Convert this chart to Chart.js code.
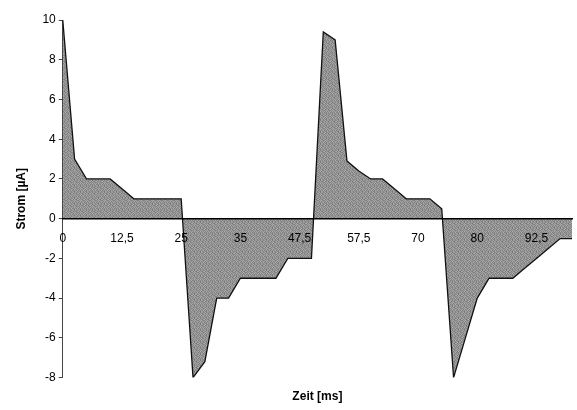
<!DOCTYPE html>
<html>
<head>
<meta charset="utf-8">
<script src="https://cdn.jsdelivr.net/npm/chart.js@4"></script>
<style>
  html, body { margin: 0; padding: 0; background: #fff; }
  #wrap { width: 577px; height: 410px; }
</style>
</head>
<body>
<div id="wrap"><canvas id="myChart"></canvas></div>
<script>
// time points (ms), the jumps repeat a time value
const zeit = [0, 2.5, 5, 7.5, 10, 12.5, 15, 17.5, 20, 22.5, 25,
    25, 27.5, 30, 32.5, 35, 37.5, 40, 42.5, 45, 47.5, 50,
    50, 52.5, 55, 57.5, 60, 62.5, 65, 67.5, 70, 72.5, 75,
    75, 77.5, 80, 82.5, 85, 87.5, 90, 92.5, 95, 97.5, 100];

// current in µA
const strom = [10, 3, 2, 2, 2, 1.5, 1, 1, 1, 1, 1,
    -8, -7.2, -4, -4, -3, -3, -3, -3, -2, -2, -2,
    9.4, 9, 2.9, 2.4, 2, 2, 1.5, 1, 1, 1, 0.5,
    -8, -6, -4, -3, -3, -3, -2.5, -2, -1.5, -1, -1];

const yTicks = [10, 8, 6, 4, 2, 0, -2, -4, -6, -8];

const fontFam = "'Liberation Sans', Arial, sans-serif";

// grainy grey fill, fixed little tile
function makePattern() {
    const shades = [
        [140, 168, 126, 158, 150, 132],
        [172, 122, 160, 138, 118, 166],
        [134, 156, 144, 170, 142, 128],
        [162, 130, 176, 124, 160, 148],
        [124, 150, 136, 154, 132, 172],
        [158, 144, 120, 166, 146, 136]
    ];
    const c = document.createElement('canvas');
    c.width = 6; c.height = 6;
    const g = c.getContext('2d');
    for (let y = 0; y < 6; y++) {
        for (let x = 0; x < 6; x++) {
            const v = shades[y][x];
            g.fillStyle = `rgb(${v},${v},${v})`;
            g.fillRect(x, y, 1, 1);
        }
    }
    return g.createPattern(c, 'repeat');
}

const ctx = document.getElementById('myChart').getContext('2d');

const myChart = new Chart(ctx, {
    type: 'line',
    data: {
        labels: zeit,
        datasets: [{
            data: strom,
            fill: 'origin',
            backgroundColor: makePattern(),
            borderColor: '#111',
            borderWidth: 1.3,
            pointRadius: 0,
            tension: 0
        }]
    },
    options: {
        responsive: true,
        maintainAspectRatio: false,
        animation: false,
        layout: { padding: { top: 20, right: 1, left: 10, bottom: 4 } },
        plugins: {
            legend: { display: false },
            tooltip: { enabled: false }
        },
        scales: {
            x: {
                type: 'category',
                position: { y: 0 },
                offset: false,
                grid: { display: false },
                border: { display: true, color: '#000', width: 1.5, z: 1 },
                ticks: {
                    z: 1,
                    autoSkip: false,
                    maxRotation: 0,
                    padding: 5,
                    color: '#000',
                    font: { family: fontFam, size: 12 },
                    callback: function (val, idx) {
                        return idx % 5 === 0 ? String(zeit[idx]).replace('.', ',') : '';
                    }
                }
            },
            xTitle: {
                type: 'linear',
                position: 'bottom',
                grid: { display: false },
                border: { display: false },
                ticks: { display: false },
                title: {
                    display: true,
                    text: 'Zeit [ms]',
                    color: '#000',
                    padding: { top: 4, bottom: 2 },
                    font: { family: fontFam, size: 12, weight: 'bold' }
                }
            },
            y: {
                min: -8,
                max: 10,
                afterBuildTicks: function (axis) {
                    axis.ticks = yTicks.map(v => ({ value: v }));
                },
                grid: { drawOnChartArea: false, tickLength: 4, color: '#444' },
                border: { color: '#444', width: 1 },
                ticks: {
                    padding: 3,
                    color: '#000',
                    font: { family: fontFam, size: 12 },
                    callback: v => String(v)
                },
                title: {
                    display: true,
                    text: 'Strom [µA]',
                    color: '#000',
                    padding: { top: 4, bottom: 11 },
                    font: { family: fontFam, size: 12, weight: 'bold' }
                }
            }
        }
    }
});
</script>
</body>
</html>
